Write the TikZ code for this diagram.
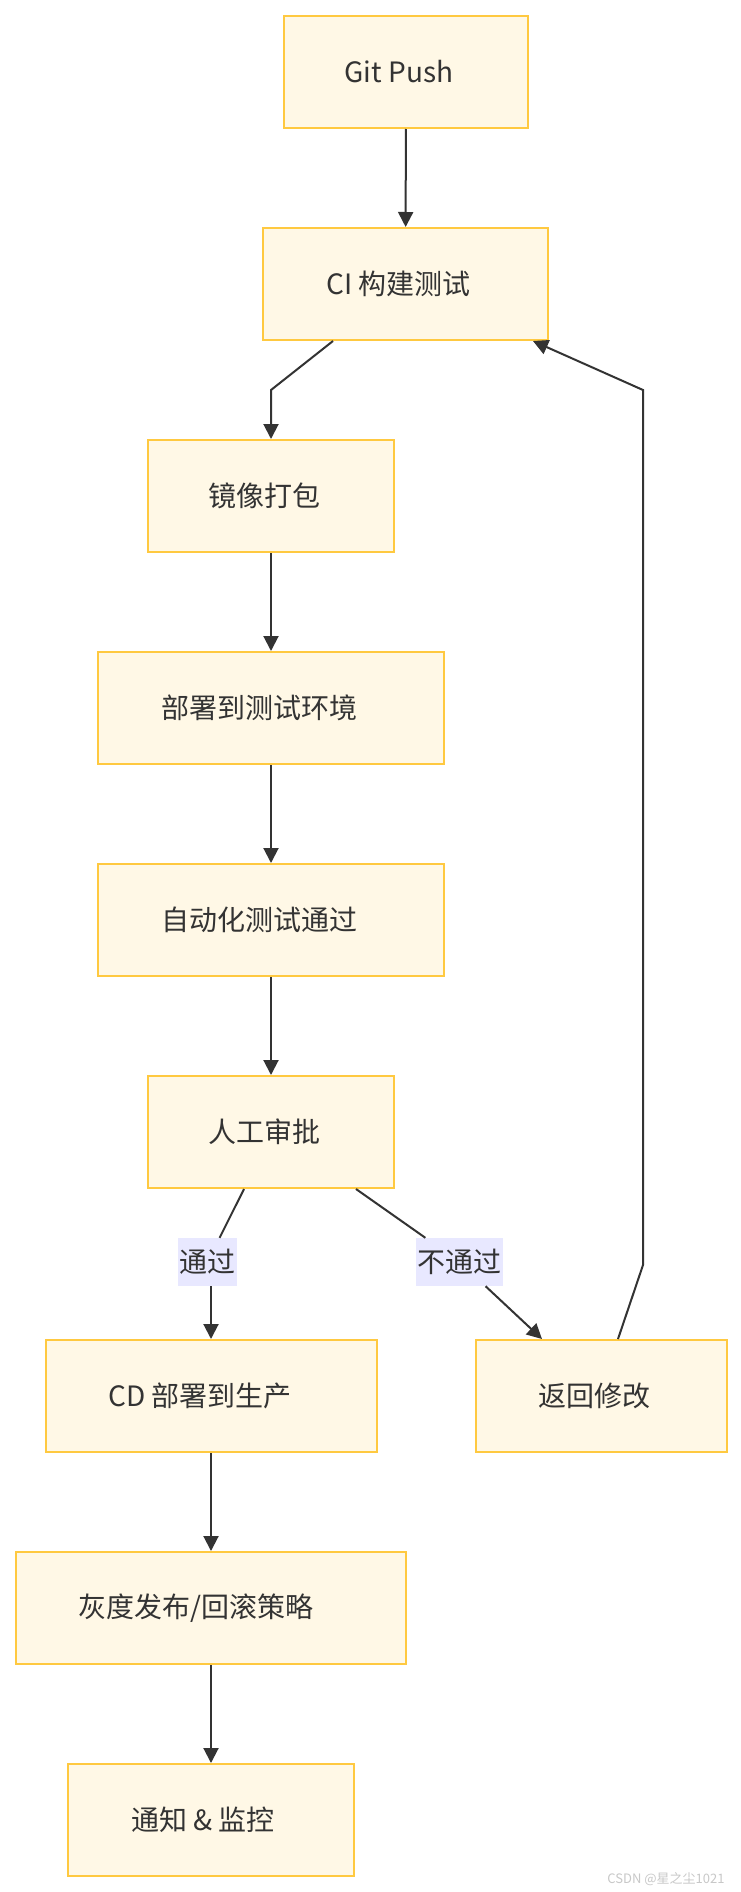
\documentclass[tikz,border=0pt]{standalone}
\usepackage{fontspec}
\setmainfont{Noto Sans CJK SC}
\usetikzlibrary{arrows.meta}
\definecolor{boxfill}{HTML}{FFF8E6}
\definecolor{boxdraw}{HTML}{FFC940}
\definecolor{lnk}{HTML}{333333}
\definecolor{lblbg}{HTML}{E8E8FF}
\definecolor{wm}{HTML}{C8C8C8}
\newcommand\tsh[2]{#2\kern#1pt}
\begin{document}
\begin{tikzpicture}[x=1pt,y=-1pt,
  font=\fontsize{28}{34}\selectfont,
  box/.style={draw=boxdraw, fill=boxfill, line width=2pt, minimum height=112pt, inner sep=0pt, text=lnk},
  ln/.style={draw=lnk, line width=2pt},
  arr/.style={draw=lnk, line width=2pt, -{Triangle[length=15pt,width=15pt]}},
  lbl/.style={fill=lblbg, text=lnk, inner xsep=1.5pt, inner ysep=0pt, minimum height=48pt}]
\useasboundingbox (0,0) rectangle (740,1892);
\fill[white] (0,0) rectangle (740,1892);

\node[box, minimum width=244pt] (git)    at (406,72)    {\tsh{14}{Git Push}};
\node[box, minimum width=285pt] (ci)     at (405.5,284) {\tsh{14}{CI 构建测试}};
\node[box, minimum width=246pt] (pack)   at (271,496)   {\tsh{13}{镜像打包}};
\node[box, minimum width=346pt] (dtest)  at (271,708)   {\tsh{24}{部署到测试环境}};
\node[box, minimum width=346pt] (auto)   at (271,920)   {\tsh{23}{自动化测试通过}};
\node[box, minimum width=246pt] (review) at (271,1132)  {\tsh{13}{人工审批}};
\node[box, minimum width=331pt] (cd)     at (211,1396)  {\tsh{22}{CD 部署到生产}};
\node[box, minimum width=251pt] (back)   at (601.5,1396){\tsh{14}{返回修改}};
\node[box, minimum width=390pt] (gray)   at (211,1608)  {\tsh{30}{灰度发布/回滚策略}};
\node[box, minimum width=286pt] (notify) at (211,1820)  {\tsh{16}{通知 \& 监控}};

\node[lbl] (l1) at (207.5,1262) {通过};
\node[lbl] (l2) at (459.7,1262) {不通过};

\coordinate (k1) at (271,390);
\coordinate (k2) at (643,1265);
\coordinate (k3) at (643,390);

\draw[arr] (git) -- (ci);
\draw[arr] ([xshift=-72.5pt]ci.south) -- (k1) -- (pack.north);
\draw[arr] (pack) -- (dtest);
\draw[arr] (dtest) -- (auto);
\draw[arr] (auto) -- (review);
\draw[ln] ([xshift=-27pt]review.south) -- (l1);
\draw[arr] (l1.south -| cd.north) -- (cd.north);
\draw[ln] ([xshift=85pt]review.south) -- (l2);
\draw[arr] (l2) -- ([xshift=-59.5pt]back.north);
\draw[arr] ([xshift=16.5pt]back.north) -- (k2) -- (k3) -- ([xshift=-16pt]ci.south east);
\draw[arr] (cd) -- (gray);
\draw[arr] (gray) -- (notify);

\node[anchor=east, text=wm, font=\fontsize{13}{15}\selectfont] (mark) at (728,1879) {CSDN @星之尘1021};
\end{tikzpicture}
\end{document}
